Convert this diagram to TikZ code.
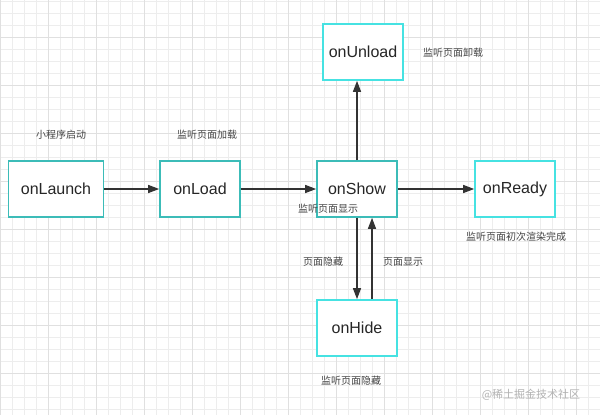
\documentclass[tikz,border=0pt]{standalone}
\usepackage{fontspec}
\setmainfont{Liberation Sans}
\newfontfamily\cjk{Noto Sans CJK SC}
\usetikzlibrary{arrows.meta}

\definecolor{tealbox}{HTML}{3CBCB8}
\definecolor{cyanbox}{HTML}{46E2E2}
\definecolor{gridminor}{HTML}{EDEDED}
\definecolor{gridmajor}{HTML}{E0E0E0}
\definecolor{flowgray}{HTML}{333333}
\definecolor{notegray}{HTML}{444444}

\begin{document}
\begin{tikzpicture}[x=1pt,y=-1pt,
    hook/.style={
      draw=tealbox, line width=1.7pt, fill=white,
      minimum width=80pt, minimum height=56pt,
      text=black!85, font=\fontsize{16}{19}\selectfont,
    },
    hook bright/.style={hook, draw=cyanbox},
    flow/.style={draw=flowgray, line width=1.4pt,
      -{Triangle[length=11pt,width=8pt]}},
    note/.style={text=notegray, font=\cjk\fontsize{10}{12}\selectfont},
  ]
  \useasboundingbox (0,0) rectangle (600,415);
  \fill[white] (0,0) rectangle (600,415);
  % background grid
  \foreach \gx in {0,12,...,600}
    \draw[gridminor, line width=0.6pt] (\gx,0) -- (\gx,415);
  \foreach \gy in {1,13,...,415}
    \draw[gridminor, line width=0.6pt] (0,\gy) -- (600,\gy);
  \foreach \gx in {0,48,...,600}
    \draw[gridmajor, line width=0.6pt] (\gx,0) -- (\gx,415);
  \foreach \gy in {37,85,...,415}
    \draw[gridmajor, line width=0.6pt] (0,\gy) -- (600,\gy);

  \node[hook, minimum width=95pt] (launch) at (56,189) {onLaunch};
  \node[hook] (load) at (200,189) {onLoad};
  \node[hook] (show) at (357,189) {onShow};
  \node[hook bright] (ready) at (515,189) {onReady};
  \node[hook bright] (unload) at (363,52) {onUnload};
  \node[hook bright] (hide) at (357,328) {onHide};

  \draw[flow] (launch) -- (load);
  \draw[flow] (load) -- (show);
  \draw[flow] (show) -- (ready);
  \draw[flow] (show.north) -- (show.north |- unload.south);
  \draw[flow] (show) -- (hide);
  \draw[flow] ([xshift=15pt]hide.north) -- ([xshift=15pt]show.south);

  \node[note] (n-launch) at (61,135) {小程序启动};
  \node[note] (n-load) at (207,135) {监听页面加载};
  \node[note] (n-unload) at (453,53) {监听页面卸载};
  \node[note] (n-show) at (328,209) {监听页面显示};
  \node[note] (n-ready) at (516,237) {监听页面初次渲染完成};
  \node[note] (n-hidearrow) at (323,262) {页面隐藏};
  \node[note] (n-showarrow) at (403,262) {页面显示};
  \node[note] (n-hide) at (351,381) {监听页面隐藏};
  \node[note, text=black!30, font=\cjk\fontsize{11}{13}\selectfont] (mark) at (531,395) {@稀土掘金技术社区};
\end{tikzpicture}
\end{document}
